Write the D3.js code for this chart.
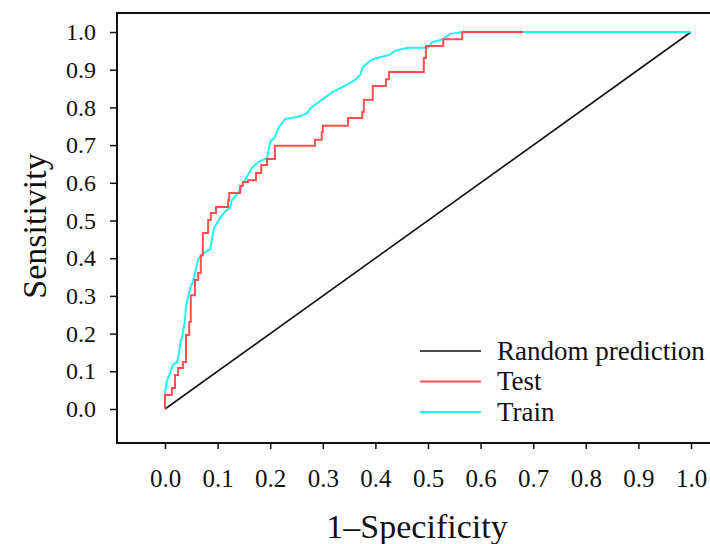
<!DOCTYPE html>
<html>
<head>
<meta charset="utf-8">
<script src="https://cdn.jsdelivr.net/npm/d3@7"></script>
<style>
  body { margin: 0; background: #fff; }
  text { font-family: "Liberation Serif", "Times New Roman", serif; fill: #111; }
</style>
</head>
<body>
<script>
// ROC data
var testFpr = [0, 0, 0.013, 0.019, 0.025, 0.034, 0.040, 0.046, 0.049, 0.057, 0.063, 0.068, 0.072, 0.082, 0.087, 0.097,
  0.120, 0.122, 0.143, 0.148, 0.158, 0.173, 0.183, 0.194, 0.209, 0.285, 0.298, 0.300, 0.348, 0.375, 0.378, 0.395,
  0.420, 0.426, 0.492, 0.496, 0.529, 0.565, 0.681];
var testTpr = [0, 0.037, 0.056, 0.090, 0.109, 0.125, 0.196, 0.231, 0.302, 0.342, 0.361, 0.408, 0.467, 0.501, 0.520, 0.536,
  0.554, 0.573, 0.592, 0.602, 0.607, 0.626, 0.647, 0.663, 0.698, 0.714, 0.735, 0.751, 0.772, 0.788, 0.820, 0.857,
  0.875, 0.894, 0.931, 0.963, 0.981, 1.0, 1.0];

var trainFpr = [0, 0, 0.004, 0.010, 0.015, 0.023, 0.027, 0.030, 0.032, 0.038, 0.040, 0.048, 0.053, 0.059, 0.063, 0.074,
  0.086, 0.093, 0.105, 0.112, 0.124, 0.127, 0.139, 0.150, 0.165, 0.177, 0.194, 0.200, 0.209, 0.215, 0.228, 0.253,
  0.270, 0.279, 0.300, 0.319, 0.337, 0.352, 0.361, 0.371, 0.376, 0.380, 0.392, 0.403, 0.426, 0.437, 0.460, 0.500,
  0.508, 0.529, 0.542, 0.565, 1.0];
var trainTpr = [0, 0.042, 0.077, 0.095, 0.117, 0.125, 0.151, 0.183, 0.186, 0.236, 0.273, 0.321, 0.337, 0.371, 0.398, 0.414,
  0.424, 0.480, 0.507, 0.520, 0.536, 0.554, 0.573, 0.602, 0.639, 0.655, 0.666, 0.708, 0.721, 0.745, 0.769, 0.775,
  0.785, 0.801, 0.822, 0.841, 0.854, 0.865, 0.873, 0.886, 0.907, 0.912, 0.926, 0.931, 0.939, 0.950, 0.958, 0.958,
  0.973, 0.981, 0.995, 1.0, 1.0];

var randomFpr = [0, 1];
var randomTpr = [0, 1];

var xTicks = [0, 0.1, 0.2, 0.3, 0.4, 0.5, 0.6, 0.7, 0.8, 0.9, 1.0];
var yTicks = [0, 0.1, 0.2, 0.3, 0.4, 0.5, 0.6, 0.7, 0.8, 0.9, 1.0];
var legendNames = ["Random prediction", "Test", "Train"];
var legendColors = ["#111111", "#ff4f4f", "#1ef4f4"];

var width = 710, height = 544;
var boxL = 117, boxT = 13, boxR = 713, boxB = 443;

var svg = d3.select("body").append("svg")
  .attr("width", width)
  .attr("height", height);

var x = d3.scaleLinear().domain([0, 1]).range([165, 691]);
var y = d3.scaleLinear().domain([0, 1]).range([409, 32]);

function pts(xs, ys) {
  return xs.map(function(d, i) { return [d, ys[i]]; });
}

var line = d3.line()
  .x(function(d) { return x(d[0]); })
  .y(function(d) { return y(d[1]); });

var stepLine = d3.line()
  .x(function(d) { return x(d[0]); })
  .y(function(d) { return y(d[1]); })
  .curve(d3.curveStepAfter);

// diagonal
svg.append("path")
  .attr("d", line(pts(randomFpr, randomTpr)))
  .attr("fill", "none")
  .attr("stroke", legendColors[0])
  .attr("stroke-width", 1.6);

// train
svg.append("path")
  .attr("d", line(pts(trainFpr, trainTpr)))
  .attr("fill", "none")
  .attr("stroke", legendColors[2])
  .attr("stroke-width", 2);

// test
svg.append("path")
  .attr("d", stepLine(pts(testFpr, testTpr)))
  .attr("fill", "none")
  .attr("stroke", legendColors[1])
  .attr("stroke-width", 2);

// frame
svg.append("rect")
  .attr("x", boxL).attr("y", boxT)
  .attr("width", boxR - boxL).attr("height", boxB - boxT)
  .attr("fill", "none")
  .attr("stroke", "#111")
  .attr("stroke-width", 2);

// axes
var xAxis = svg.append("g")
  .attr("transform", "translate(0," + boxB + ")")
  .call(d3.axisBottom(x).tickValues(xTicks).tickSize(6).tickPadding(20).tickFormat(d3.format(".1f")));
var yAxis = svg.append("g")
  .attr("transform", "translate(" + boxL + ",0)")
  .call(d3.axisLeft(y).tickValues(yTicks).tickSize(7).tickPadding(14).tickFormat(d3.format(".1f")));

[xAxis, yAxis].forEach(function(a, i) {
  a.select(".domain").remove();
  a.selectAll(".tick line").attr("stroke", "#111").attr("stroke-width", 1.5);
  a.selectAll(".tick text")
    .attr("fill", "#111")
    .style("font-family", "'Liberation Serif', serif")
    .style("font-size", i === 0 ? "25px" : "24px");
});

// axis titles
svg.append("text")
  .attr("x", 417)
  .attr("y", 538)
  .attr("text-anchor", "middle")
  .style("font-size", "34px")
  .text("1\u2013Specificity");

svg.append("text")
  .attr("transform", "translate(46,226) rotate(-90)")
  .attr("text-anchor", "middle")
  .style("font-size", "34px")
  .text("Sensitivity");

// legend
var leg = svg.append("g");
legendNames.forEach(function(name, i) {
  var ly = 351 + i * 30.5;
  leg.append("line")
    .attr("x1", 420).attr("x2", 481)
    .attr("y1", ly).attr("y2", ly)
    .attr("stroke", legendColors[i])
    .attr("stroke-width", i === 0 ? 1.6 : 2);
  leg.append("text")
    .attr("x", 497)
    .attr("y", ly + 8.5)
    .style("font-size", "27px")
    .text(name);
});
</script>
</body>
</html>
